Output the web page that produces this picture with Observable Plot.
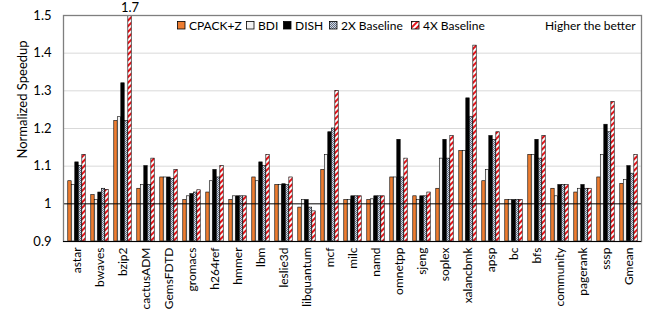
<!DOCTYPE html>
<html><head><meta charset="utf-8">
<script src="https://cdn.jsdelivr.net/npm/d3@7"></script>
<script src="https://cdn.jsdelivr.net/npm/@observablehq/plot@0.6"></script>
<style>
body{margin:0;background:#fff;font-family:Lato,"Open Sans",sans-serif;}
#wrap{position:relative;width:653px;height:314px;}
#wrap svg g[aria-label^="x-axis"]{font-size:12px;}
.leg{position:absolute;top:18px;height:14px;font-size:12px;display:flex;align-items:center;color:#000;white-space:nowrap;}
.leg svg{margin-right:3px;}
</style></head><body>
<svg width="0" height="0" style="position:absolute">
<defs>
<pattern id="p2x" patternUnits="userSpaceOnUse" width="2" height="2">
<rect width="2" height="2" fill="#d5dae3"/><rect width="1" height="1" fill="#5f6b80"/><rect x="1" y="1" width="1" height="1" fill="#5f6b80"/>
</pattern>
<pattern id="p4x" patternUnits="userSpaceOnUse" width="4" height="4" patternTransform="rotate(45)">
<rect width="4" height="4" fill="#fff"/><rect width="2" height="4" fill="#e8141b"/>
</pattern>
</defs></svg>
<div id="wrap"></div>
<script>
const categories = ["astar","bwaves","bzip2","cactusADM","GemsFDTD","gromacs","h264ref","hmmer","lbm","leslie3d","libquantum","mcf","milc","namd","omnetpp","sjeng","soplex","xalancbmk","apsp","bc","bfs","community","pagerank","sssp","Gmean"];
const series = ["CPACK+Z","BDI","DISH","2X Baseline","4X Baseline"];
const cpackz = [1.06,1.023,1.22,1.04,1.07,1.01,1.03,1.01,1.07,1.05,0.99,1.09,1.01,1.01,1.07,1.02,1.04,1.14,1.06,1.01,1.13,1.04,1.03,1.07,1.053];
const bdi    = [1.05,1.01,1.23,1.05,1.07,1.02,1.06,1.02,1.06,1.05,1.01,1.13,1.01,1.012,1.07,1.01,1.12,1.14,1.09,1.01,1.13,1.02,1.04,1.13,1.063];
const dish   = [1.11,1.03,1.32,1.10,1.07,1.026,1.09,1.02,1.11,1.052,1.01,1.19,1.02,1.02,1.17,1.02,1.17,1.28,1.18,1.01,1.17,1.05,1.05,1.21,1.10];
const base2x = [1.10,1.04,1.22,1.05,1.066,1.03,1.07,1.02,1.10,1.05,0.99,1.20,1.02,1.02,1.07,1.02,1.12,1.23,1.17,1.01,1.12,1.05,1.04,1.19,1.08];
const base4x = [1.13,1.037,1.70,1.12,1.09,1.036,1.10,1.02,1.13,1.07,0.98,1.30,1.02,1.02,1.12,1.03,1.18,1.42,1.19,1.01,1.18,1.05,1.04,1.27,1.13];
const yTicks = [0.9,1,1.1,1.2,1.3,1.4,1.5];
const yDomain = [0.9,1.5];

const values = [cpackz,bdi,dish,base2x,base4x];
const fills = ["#ED7D31","#F2F2F2","#000000","url(#p2x)","url(#p4x)"];
const table = categories.flatMap((c,i)=>series.map((s,j)=>({cat:c, series:s, value:values[j][i]})));

const W=653,H=314,mL=63,mR=12,mT=15,mB=73;
const bw=(W-mL-mR)/categories.length;
const barW=bw*0.152, pad=(bw-5*barW)/2;

const barMarks = series.map((s,j)=>Plot.barY(table.filter(d=>d.series===s),{
  x:"cat", y1:()=>yDomain[0], y2:"value", fill:fills[j], stroke:"#000", strokeWidth:0.6,
  insetLeft:pad+j*barW, insetRight:bw-pad-(j+1)*barW, clip:true
}));

const chart = Plot.plot({
  width:W, height:H, marginLeft:mL, marginRight:mR, marginTop:mT, marginBottom:mB,
  style:{fontFamily:"Lato, 'Open Sans', sans-serif", fontSize:"13px", background:"#fff", color:"#000", overflow:"visible"},
  x:{domain:categories, padding:0, tickRotate:-90, tickSize:0, tickPadding:6, label:null},
  y:{domain:yDomain, ticks:yTicks, tickFormat:d=>String(+d.toFixed(2)), tickSize:0, tickPadding:12, label:null},
  marks:[
    Plot.ruleY(yTicks.filter(t=>t>1 && t<yDomain[1]),{stroke:"#d9d9d9", strokeWidth:1}),
    ...barMarks,
    Plot.ruleY([1],{stroke:"#000", strokeWidth:1}),
    Plot.frame({stroke:"#7f7f7f", strokeWidth:1.3}),
    Plot.ruleY([yDomain[0]],{stroke:"#000", strokeWidth:1}),
    Plot.text(table.filter(d=>d.series==="4X Baseline" && d.value>yDomain[1]),{
      x:"cat", y:()=>yDomain[1], text:d=>String(d.value), dx:2*barW, dy:-8, fontSize:13, fill:"#000"
    }),
    Plot.text(["Normalized Speedup"],{frameAnchor:"left", textAnchor:"middle", dx:-41, dy:-29, rotate:-90, fontSize:13, fill:"#000"})
  ]
});
const wrap=document.getElementById("wrap");
wrap.appendChild(chart);

const legLefts=[177,246,283,329,411];
series.forEach((s,j)=>{
  const d=document.createElement("div");
  d.className="leg"; d.style.left=legLefts[j]+"px";
  d.innerHTML=`<svg width="9" height="9"><rect x="0.5" y="0.5" width="7.5" height="7.5" fill="${fills[j]}" stroke="#000" stroke-width="0.8"/></svg><span>${s}</span>`;
  wrap.appendChild(d);
});
const note=document.createElement("div");
note.className="leg"; note.style.left="545px"; note.textContent="Higher the better";
wrap.appendChild(note);
</script></body></html>
